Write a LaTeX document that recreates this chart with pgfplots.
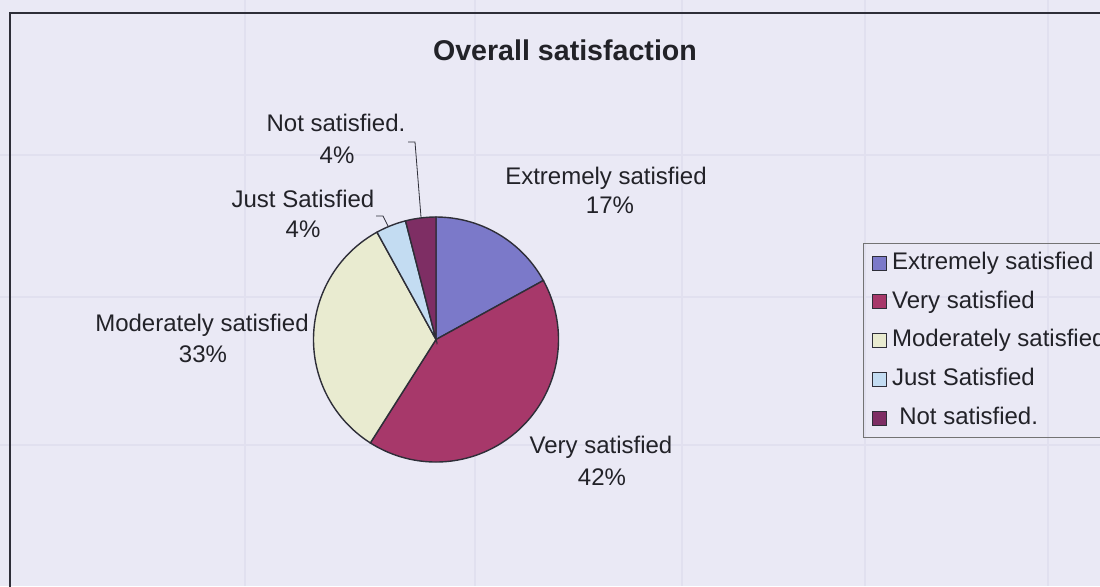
\documentclass[border=0pt]{standalone}
\usepackage{fontspec}
\setmainfont{Liberation Sans}
\usepackage{pgfplots}
\pgfplotsset{compat=1.18}
\definecolor{bg}{HTML}{EAE9F5}
\definecolor{cExt}{HTML}{7B79C9}
\definecolor{cVery}{HTML}{A7386A}
\definecolor{cMod}{HTML}{E9EBD0}
\definecolor{cJust}{HTML}{C3DCF2}
\definecolor{cNot}{HTML}{7E2E64}
\definecolor{faint}{HTML}{E1E0EF}
\definecolor{pieline}{HTML}{2E2E38}
\definecolor{txt}{HTML}{222228}
\newcommand{\lbl}{\fontsize{12}{14}\selectfont}
% pie slice: start (percent), value (percent), colour
\newcommand{\slice}[3]{%
  \addplot[fill=#3, draw=pieline, line width=0.7pt,
    domain=90-3.6*(#1+#2):90-3.6*#1, samples=90]
    ({436+122.5*cos(x)},{339.5-122.5*sin(x)}) -- (axis cs:436,339.5) -- cycle;}
\begin{document}
\begin{tikzpicture}
\useasboundingbox (0,0) rectangle (550pt,-293pt);
\fill[bg] (0,0) rectangle (550pt,-293pt);
\clip (0,0) rectangle (550pt,-293pt);
\begin{axis}[
  x=0.5pt, y=0.5pt,
  xmin=0, xmax=1100, ymin=0, ymax=586,
  y dir=reverse,
  hide axis, clip=false,
  at={(0,0)}, anchor=origin,
  legend cell align=left,
  legend image code/.code={\draw[#1,draw=pieline,line width=0.5pt] (0pt,-3.5pt) rectangle (7pt,3.5pt);
    \path[draw=none,fill=none] (9pt,0pt);},
  legend style={at={(axis cs:863,243)}, anchor=north west,
    draw=black!55, line width=0.6pt, fill=none, font=\lbl, text=txt,
    row sep=6pt, inner xsep=4pt, inner ysep=3pt,
    nodes={inner sep=1pt, text height=8.8pt, text depth=2.6pt}},
]
% faint bleed-through table lines
\draw[faint, line width=1pt] (axis cs:245,0) -- (axis cs:245,586);
\draw[faint, line width=1pt] (axis cs:475,0) -- (axis cs:475,586);
\draw[faint, line width=1pt] (axis cs:682,0) -- (axis cs:682,586);
\draw[faint, line width=1pt] (axis cs:865,0) -- (axis cs:865,586);
\draw[faint, line width=1pt] (axis cs:1048,0) -- (axis cs:1048,586);
\draw[faint, line width=1pt] (axis cs:0,155) -- (axis cs:1100,155);
\draw[faint, line width=1pt] (axis cs:0,297) -- (axis cs:1100,297);
\draw[faint, line width=1pt] (axis cs:0,445) -- (axis cs:1100,445);
% chart frame
\draw[pieline, line width=1pt] (axis cs:10,600) -- (axis cs:10,13) -- (axis cs:1120,13);
% slices (percent values)
\slice{0}{17}{cExt}
\slice{17}{42}{cVery}
\slice{59}{33}{cMod}
\slice{92}{4}{cJust}
\slice{96}{4}{cNot}
\legend{Extremely satisfied, Very satisfied, Moderately satisfied, Just Satisfied, \hspace{0.3em}Not satisfied.}
% leader lines
\draw[pieline, line width=0.4pt] (axis cs:408,142) -- (axis cs:415,142) -- (axis cs:421,217);
\draw[pieline, line width=0.4pt] (axis cs:376,216) -- (axis cs:383,216) -- (axis cs:388,226);
% title
\node[font=\fontsize{14.3}{17}\selectfont\bfseries, text=txt, anchor=base] at (axis cs:565,60) {Overall satisfaction};
% data labels
\node[font=\lbl, text=txt, anchor=base] at (axis cs:606,184) {Extremely satisfied};
\node[font=\lbl, text=txt, anchor=base] at (axis cs:610,213) {17\%};
\node[font=\lbl, text=txt, anchor=base] at (axis cs:601,453) {Very satisfied};
\node[font=\lbl, text=txt, anchor=base] at (axis cs:602,485) {42\%};
\node[font=\lbl, text=txt, anchor=base] at (axis cs:202,331) {Moderately satisfied};
\node[font=\lbl, text=txt, anchor=base] at (axis cs:203,362) {33\%};
\node[font=\lbl, text=txt, anchor=base] at (axis cs:303,207) {Just Satisfied};
\node[font=\lbl, text=txt, anchor=base] at (axis cs:303,237) {4\%};
\node[font=\lbl, text=txt, anchor=base] at (axis cs:336,131) {Not satisfied.};
\node[font=\lbl, text=txt, anchor=base] at (axis cs:337,163) {4\%};
\end{axis}
\end{tikzpicture}
\end{document}
